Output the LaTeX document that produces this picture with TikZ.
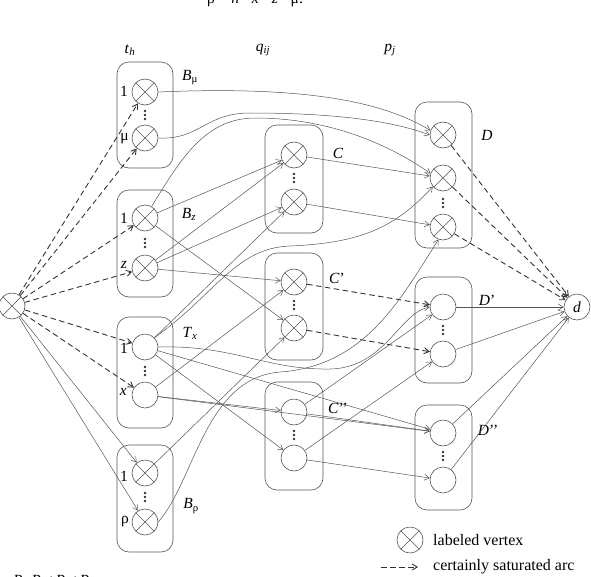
\documentclass[tikz,border=0pt]{standalone}
\usepackage{fontspec}
\setmainfont{Liberation Serif}
\usetikzlibrary{arrows.meta}
\definecolor{gc}{RGB}{85,85,85}
\newcommand\isub[2]{\textit{#1}\textsubscript{#2}}
\begin{document}
\begin{tikzpicture}[x=1pt,y=-1pt,
  vx/.style={circle,draw=gc,line width=0.6pt,minimum size=26pt,inner sep=0pt},
  lvx/.style={vx,path picture={\draw[gc,line width=0.6pt]
      (path picture bounding box.south west)--(path picture bounding box.north east)
      (path picture bounding box.north west)--(path picture bounding box.south east);}},
  grp/.style={draw=gc,rounded corners=12pt,line width=0.6pt},
  arr/.style={draw=gc,line width=0.5pt,-{Straight Barb[length=5pt,width=6pt]}},
  darr/.style={draw=black!80,line width=0.9pt,dash pattern=on 5.5pt off 3.5pt,-{Straight Barb[length=5pt,width=6pt]}},
  lab/.style={font=\fontsize{15.5}{18}\selectfont,inner sep=0pt},
  leg/.style={font=\fontsize{16}{18}\selectfont,inner sep=0pt}
]
\useasboundingbox (0,0) rectangle (591,576);
% header texts
\node[lab] (formula) at (255,0) {ρ = \textit{h} - \textit{x} - \textit{z} - μ.};
\node[lab] (th) at (130,50) {\isub{t}{\textit{h}}};
\node[lab] (qij) at (263,50) {\isub{q}{\textit{ij}}};
\node[lab] (pj) at (390,50) {\isub{p}{\textit{j}}};
\node[lab,anchor=west] (ptext) at (13,582) {\textit{P}=\isub{P}{1}+\isub{P}{2}+\isub{P}{3}};
% groups
\draw[grp] (117,62) rectangle (173,168);
\draw[grp] (117,190) rectangle (173,297);
\draw[grp] (117,317) rectangle (173,428);
\draw[grp] (117,445) rectangle (173,552);
\draw[grp] (265,125) rectangle (323,233);
\draw[grp] (265,253) rectangle (323,360);
\draw[grp] (265,382) rectangle (323,490);
\draw[grp] (415,102) rectangle (472,248);
\draw[grp] (415,277) rectangle (472,383);
\draw[grp] (415,405) rectangle (472,510);
% nodes
\node[lvx] (s) at (12,306) {};
\node[lvx] (bm1) at (145,92) {};
\node[lvx] (bm2) at (145,138) {};
\node[lvx] (bz1) at (145,218) {};
\node[lvx] (bz2) at (145,268) {};
\node[vx] (tx1) at (145,347) {};
\node[vx] (tx2) at (145,395) {};
\node[lvx] (br1) at (145,473) {};
\node[lvx] (br2) at (145,522) {};
\node[lvx] (c1) at (294,155) {};
\node[lvx] (c2) at (294,202) {};
\node[lvx] (cp1) at (294,282) {};
\node[lvx] (cp2) at (294,328) {};
\node[vx] (cpp1) at (294,412) {};
\node[vx] (cpp2) at (294,458) {};
\node[lvx] (d1) at (443,135) {};
\node[lvx] (d2) at (443,178) {};
\node[lvx] (d3) at (443,227) {};
\node[vx] (dp1) at (443,307) {};
\node[vx] (dp2) at (443,354) {};
\node[vx] (dpp1) at (443,433) {};
\node[vx] (dpp2) at (443,480) {};
\node[vx,lab,minimum size=26pt] (dd) at (577,307) {\textit{d}};
% dots
\foreach \x/\y in {145/115,145/243,145/371,145/497,294/178,294/305,294/435,443/203,443/330,443/456}
  \foreach \dy in {-4,0,4} \fill[black!80] (\x,\y+\dy) circle (1.3);
% node side labels
\node[lab,anchor=east] (l1) at (128,91) {1};
\node[lab,anchor=east] (l2) at (129,139) {μ};
\node[lab,anchor=east] (l3) at (128,218) {1};
\node[lab,anchor=east] (l4) at (127,265) {\textit{z}};
\node[lab,anchor=east] (l5) at (128,348) {1};
\node[lab,anchor=east] (l6) at (127,392) {\textit{x}};
\node[lab,anchor=east] (l7) at (128,476) {1};
\node[lab,anchor=east] (l8) at (129,522) {ρ};
% group labels
\node[lab] (gBm) at (190,78) {\isub{B}{μ}};
\node[lab] (gBz) at (189,214) {\isub{B}{\textit{z}}};
\node[lab] (gTx) at (190,333) {\isub{T}{\textit{x}}};
\node[lab] (gBr) at (191,506) {\isub{B}{ρ}};
\node[lab] (gC) at (338,153) {\textit{C}};
\node[lab] (gCp) at (337,278) {\textit{C}’};
\node[lab] (gCpp) at (338,408) {\textit{C}’’};
\node[lab] (gD) at (487,135) {\textit{D}};
\node[lab] (gDp) at (487,300) {\textit{D}’};
\node[lab] (gDpp) at (488,430) {\textit{D}’’};
% dashed arcs from s
\foreach \t in {bm1,bm2,bz1,bz2,tx1,tx2} \draw[darr] (s) -- (\t);
\draw[arr] (s) -- (br1);
\draw[arr] (s) -- (br2);
% arcs to d
\foreach \t in {d1,d2,d3} \draw[darr] (\t) -- (dd);
\foreach \t in {dp1,dp2,dpp1,dpp2} \draw[arr] (\t) -- (dd);
\draw[darr] (cp1) -- (dp1);
\draw[darr] (cp2) -- (dp2);
% solid arcs
\draw[arr] (bm1.east) .. controls (300,86) and (380,100) .. (d1.160);
\draw[arr] (bm2.east) .. controls (200,140) and (205,113) .. (250,113) .. controls (330,113) and (390,120) .. (d1.west);
\draw[arr] (bz1.60) .. controls (180,160) and (205,118) .. (255,118) .. controls (330,118) and (390,145) .. (d2.160);
\draw[arr] (bz1) -- (c1);
\draw[arr] (bz1) -- (cp2);
\draw[arr] (bz2) -- (c1);
\draw[arr] (bz2) -- (c2);
\draw[arr] (bz2) -- (cp1);
\draw[arr] (tx1) -- (c2);
\draw[arr] (tx1.45) .. controls (215,295) and (235,248) .. (290,246) .. controls (360,243) and (395,228) .. (d2.220);
\draw[arr] (tx1.east) .. controls (235,345) and (265,370) .. (330,369) .. controls (385,368) and (400,312) .. (dp1.west);
\draw[arr] (tx1) -- (dpp1);
\draw[arr] (tx1) -- (cpp2);
\draw[arr] (tx2) -- (cp1);
\draw[arr] (tx2) -- (cpp1);
\draw[arr] (tx2) -- (dpp1);
\draw[arr] (br1) -- (cp2);
\draw[arr] (br2.east) .. controls (195,480) and (205,378) .. (280,372) .. controls (365,366) and (400,300) .. (d3.250);
\draw[arr] (c1) -- (d2);
\draw[arr] (c2) -- (d3);
\draw[arr] (cpp1) -- (dp1);
\draw[arr] (cpp1) -- (dpp1);
\draw[arr] (cpp2) -- (dp2);
\draw[arr] (cpp2) -- (dpp2);
% legend
\node[lvx] (leg1) at (410,540) {};
\node[leg,anchor=west] (leg1t) at (433,540) {labeled vertex};
\coordinate (lega) at (381,567);
\coordinate (legb) at (418,567);
\draw[darr] (lega) -- (legb);
\node[leg,anchor=west] (leg2t) at (433,567) {certainly saturated arc};
\end{tikzpicture}
\end{document}
